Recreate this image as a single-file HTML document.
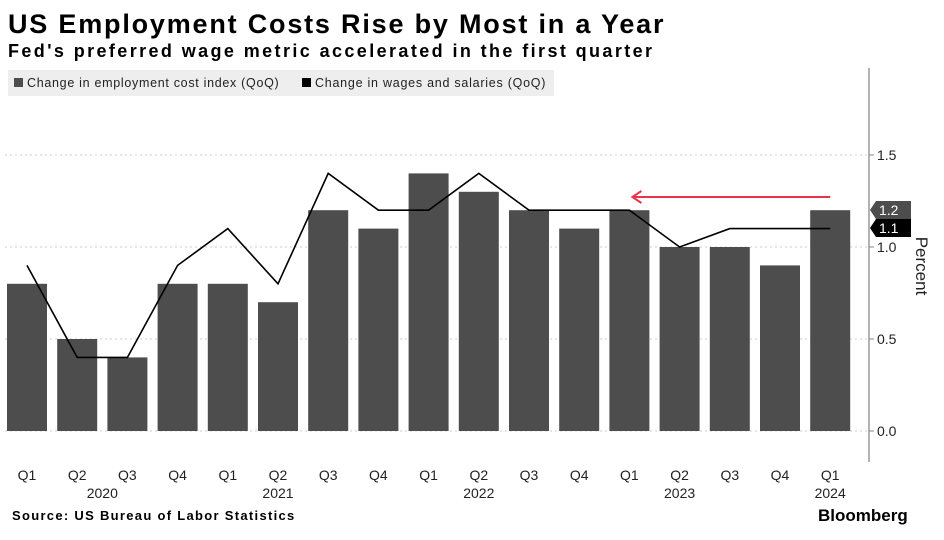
<!DOCTYPE html>
<html><head><meta charset="utf-8"><style>
body{margin:0;background:#fff;width:944px;height:535px;overflow:hidden;font-family:"Liberation Sans",sans-serif;}
</style></head><body>
<svg id="c" width="944" height="535" xmlns="http://www.w3.org/2000/svg">
<text x="8" y="33" font-size="27" font-weight="bold" fill="#000" letter-spacing="1.8">US Employment Costs Rise by Most in a Year</text>
<text x="8" y="57" font-size="18" font-weight="bold" fill="#000" letter-spacing="2.4">Fed's preferred wage metric accelerated in the first quarter</text>
<rect x="8" y="70" width="546" height="26" fill="#eee"/>
<rect x="14" y="78" width="9" height="9" fill="#4d4d4d"/>
<text x="27" y="87" font-size="12.5" fill="#222" letter-spacing="0.7">Change in employment cost index (QoQ)</text>
<rect x="302" y="78" width="9" height="9" fill="#000"/>
<text x="315" y="87" font-size="12.5" fill="#222" letter-spacing="0.75">Change in wages and salaries (QoQ)</text>
<g id="grid"></g><g id="bars"></g><g id="line"></g><g id="axis"></g>
<text transform="translate(916,266) rotate(90)" text-anchor="middle" font-size="17" fill="#222">Percent</text>
<text x="12" y="520" font-size="13" font-weight="bold" fill="#000" letter-spacing="1.3">Source: US Bureau of Labor Statistics</text>
<text x="818" y="521" font-size="17" font-weight="bold" fill="#000">Bloomberg</text>
</svg>
<script>
const quarters=["Q1","Q2","Q3","Q4","Q1","Q2","Q3","Q4","Q1","Q2","Q3","Q4","Q1","Q2","Q3","Q4","Q1"];
const years=[["2020",1.5],["2021",5],["2022",9],["2023",13],["2024",16]];
const eci=[0.8,0.5,0.4,0.8,0.8,0.7,1.2,1.1,1.4,1.3,1.2,1.1,1.2,1.0,1.0,0.9,1.2];
const wages=[0.9,0.4,0.4,0.9,1.1,0.8,1.4,1.2,1.2,1.4,1.2,1.2,1.2,1.0,1.1,1.1,1.1];
const yTicks=[0,0.5,1.0,1.5];
const NS="http://www.w3.org/2000/svg";
const x=i=>27+i*50.2, y=v=>431-v*184;
function mk(p,t,a){const e=document.createElementNS(NS,t);for(const k in a)e.setAttribute(k,a[k]);document.getElementById(p).appendChild(e);return e;}
yTicks.forEach(t=>{
 let g=mk("grid","line",{x1:5,x2:868,y1:y(t),y2:y(t),stroke:"#ccc","stroke-dasharray":"2,3"});
 
 
 let tk=mk("axis","line",{x1:869,x2:874,y1:y(t),y2:y(t),stroke:"#888"});
 
 
 let l=mk("axis","text",{x:877,y:y(t)+5,"font-size":14,fill:"#222"});l.textContent=t.toFixed(1);
 
 
});
let ax=mk("axis","line",{x1:869,x2:869,y1:68,y2:462,stroke:"#999","stroke-width":1.5});


eci.forEach((v,i)=>{
 let r=mk("bars","rect",{x:x(i)-20,y:y(v),width:40,height:y(0)-y(v),fill:"#4d4d4d"});
 
 
});
quarters.forEach((q,i)=>{
 let t=mk("axis","text",{x:x(i),y:480,"text-anchor":"middle","font-size":14,fill:"#222"});t.textContent=q;
 
 
});
years.forEach(([yr,p])=>{
 let t=mk("axis","text",{x:x(p),y:498,"text-anchor":"middle","font-size":14,fill:"#222"});t.textContent=yr;
 
 
});
let pl=mk("line","polyline",{points:wages.map((v,i)=>x(i)+","+y(v)).join(" "),fill:"none",stroke:"#000","stroke-width":1.6});


let ar=mk("line","line",{x1:x(16),x2:x(12)+4,y1:197,y2:197,stroke:"#e8334a","stroke-width":2});


let ah=mk("line","polyline",{points:(x(12)+12)+",191 "+(x(12)+3)+",197 "+(x(12)+12)+",203",fill:"none",stroke:"#e8334a","stroke-width":2});


[[eci[16],"#4d4d4d"],[wages[16],"#000"]].forEach(([v,c],k)=>{
 const cy=k==0?210:228;
 let p=mk("axis","polygon",{points:`870,${cy} 876,${cy-9} 911,${cy-9} 911,${cy+9} 876,${cy+9}`,fill:c});
 
 
 let t=mk("axis","text",{x:879,y:cy+5,"font-size":14,fill:"#fff"});t.textContent=v.toFixed(1);
 
 
});
</script>
</body></html>
